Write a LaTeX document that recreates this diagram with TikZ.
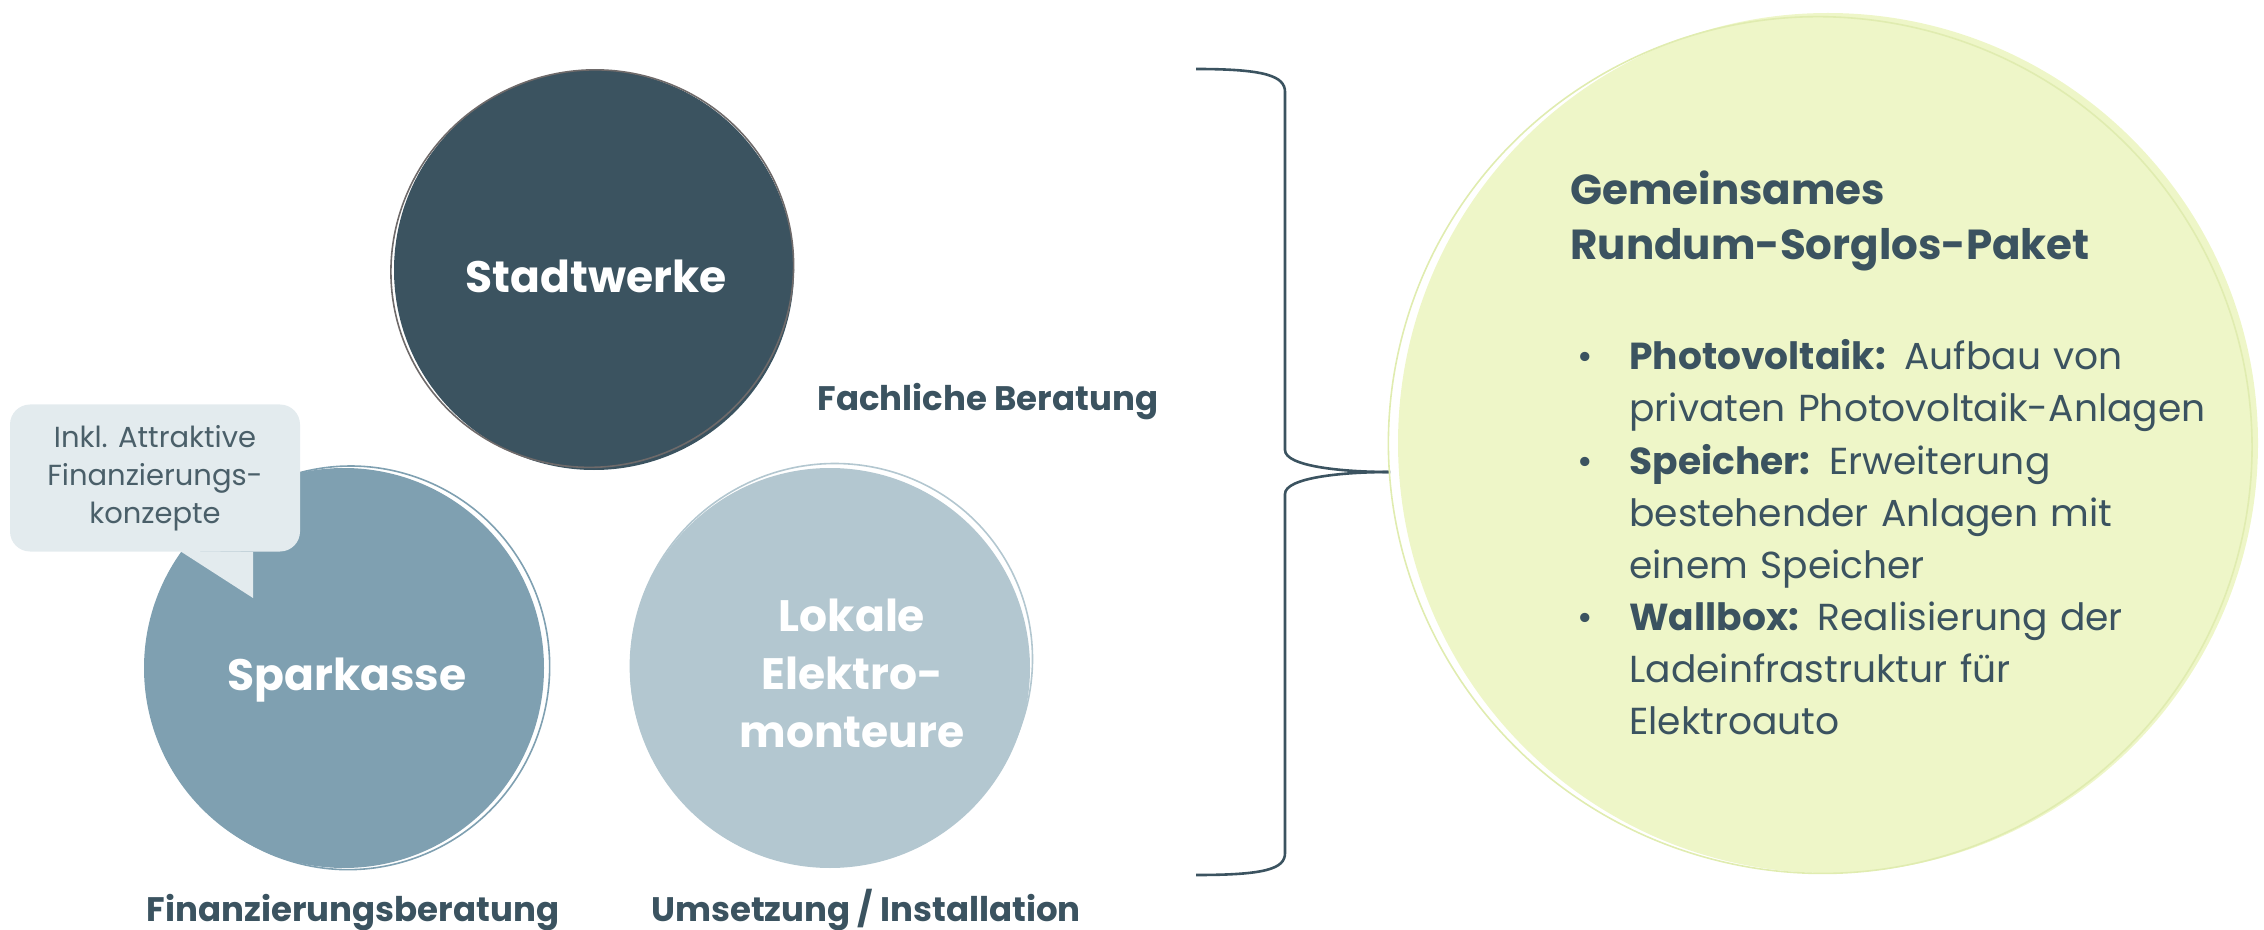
\documentclass[tikz,border=0pt]{standalone}
\usepackage{fontspec}
\setmainfont{Poppins}
\usepackage{tikz}
\usetikzlibrary{positioning}
\definecolor{dunkelblau}{HTML}{3B5360}
\definecolor{mittelblau}{HTML}{7FA0B1}
\definecolor{hellblau}{HTML}{B3C7D0}
\definecolor{blasenfarbe}{HTML}{E3EBEE}
\definecolor{blasentext}{HTML}{4A5F69}
\definecolor{hellgruen}{HTML}{EEF6C8}
\definecolor{randgruen}{HTML}{E0ECB0}
\definecolor{randgrau}{HTML}{6E6A6A}

\begin{document}
\begin{tikzpicture}[x=0.5pt,y=-0.5pt,
  kreis/.style={circle, inner sep=0pt},
  kreistext/.style={text=white, font=\bfseries\fontsize{22}{29}\selectfont, align=center, text width=200pt},
  beschriftung/.style={text=dunkelblau, font=\bfseries\fontsize{17}{20}\selectfont},
  punkt/.style={text=dunkelblau, font=\fontsize{18.8}{26}\selectfont, anchor=base west, inner sep=0pt},
  eintrag/.style={punkt, text width=320pt, align=left},
  blase/.style={fill=blasenfarbe, rounded corners=10pt, minimum width=145pt, minimum height=73.5pt,
    text=blasentext, font=\fontsize{14.5}{19}\selectfont, align=center}]
\useasboundingbox (0,0) rectangle (2264,930);

% Kreise links
\node[kreis, fill=dunkelblau, minimum size=200pt] (stadtwerke) at (594,270) {};
\draw[randgrau, line width=0.8pt, rotate around={25:(594,270)}] (593,268) ellipse (101pt and 99pt);
\node[kreistext] (stadtwerke-text) at (596,276) {Stadtwerke};

\node[kreis, fill=mittelblau, minimum size=200pt] (sparkasse) at (344,668) {};
\draw[mittelblau, line width=0.8pt, rotate around={-20:(344,668)}] (349,666) ellipse (100pt and 101pt);
\node[kreistext] (sparkasse-text) at (347,680) {Sparkasse};

\node[kreis, fill=hellblau, minimum size=200pt] (elektro) at (830,668) {};
\draw[hellblau, line width=0.8pt, rotate around={30:(830,668)}] (834,664) ellipse (101pt and 99pt);
\node[kreistext, anchor=base] (elektro-text) at (852,631) {Lokale\\Elektro-\\monteure};

% Sprechblase
\node[blase] (hinweis) at (155,478) {Inkl. Attraktive\\Finanzierungs-\\konzepte};
\coordinate (blasenspitze) at (253,598);
\fill[blasenfarbe] (180,551) -- (blasenspitze) -- (hinweis.south -| blasenspitze) -- cycle;

% Beschriftungen
\node[beschriftung, anchor=base] (fachlich) at (988,410) {Fachliche Beratung};
\node[beschriftung, anchor=base] (finanz) at (353,921) {Finanzierungsberatung};
\node[beschriftung, anchor=base] (umsetzung) at (866,921) {Umsetzung / Installation};

% Klammer
\coordinate (klammer-oben) at (1196,69);
\coordinate (klammer-spitze) at (1390,472);
\coordinate (klammer-unten) at (1196,875);
\draw[dunkelblau, line width=1.3pt] (klammer-oben) .. controls (1265,69) and (1285,76) .. (1285,92)
  -- (1285,450) .. controls (1285,466) and (1340,472) .. (klammer-spitze);
\draw[dunkelblau, line width=1.3pt] (klammer-spitze) .. controls (1340,472) and (1285,478) .. (1285,494)
  -- (1285,853) .. controls (1285,869) and (1265,875) .. (klammer-unten);

% Paket
\node[kreis, fill=hellgruen, minimum size=430pt] (paket) at (1828,443) {};
\draw[randgruen, line width=0.8pt, rotate around={-15:(1828,443)}] (1821,447) ellipse (216pt and 214pt);
\node[punkt, text width=320pt, font=\bfseries\fontsize{21}{27.5}\selectfont] (titel) at (1570,205) {Gemeinsames\\Rundum-Sorglos-Paket};

\node[punkt] (punkt-pv) at (1577,370) {•};
\node[eintrag] (pv) at (1629,370) {\textbf{Photovoltaik:} Aufbau von\\privaten Photovoltaik-Anlagen};
\node[punkt] (punkt-speicher) at (1577,474) {•};
\node[eintrag] (speicher) at (1629,474) {\textbf{Speicher:} Erweiterung\\bestehender Anlagen mit\\einem Speicher};
\node[punkt] (punkt-wallbox) at (1577,630) {•};
\node[eintrag] (wallbox) at (1629,630) {\textbf{Wallbox:} Realisierung der\\Ladeinfrastruktur für\\Elektroauto};
\end{tikzpicture}
\end{document}
